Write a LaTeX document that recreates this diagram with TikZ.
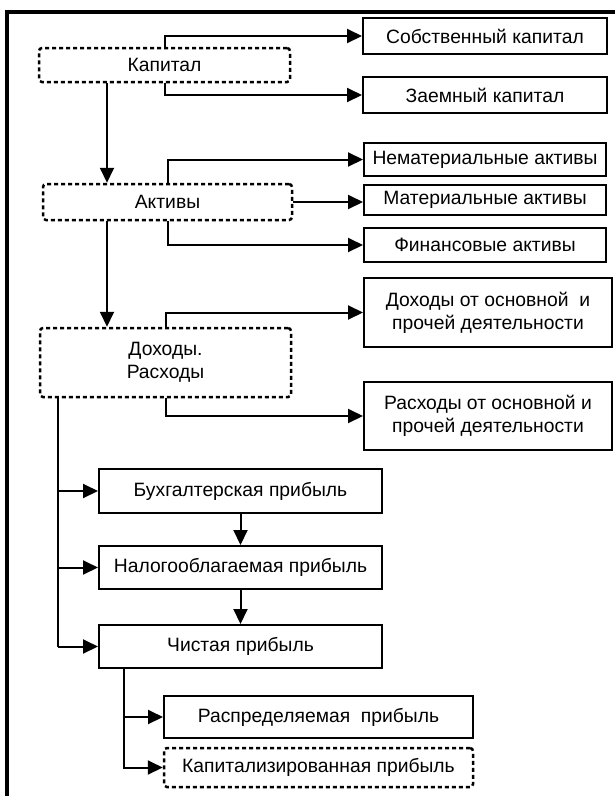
\documentclass[tikz,border=0pt]{standalone}
\usepackage{fontspec}
\setmainfont{Liberation Sans}
\usetikzlibrary{arrows.meta}
\tikzset{
  every node/.style={font=\fontsize{19.3}{23}\selectfont, align=center, inner sep=0pt},
  solidbox/.style={draw, line width=2pt, fill=white, rectangle},
  dashbox/.style={draw, line width=2.5pt, dash pattern=on 4pt off 3pt, rounded corners=3pt, fill=white, rectangle},
  conn/.style={line width=2pt},
  arr/.style={line width=2pt, -{Triangle[length=15pt,width=14pt]}},
}
\begin{document}
\begin{tikzpicture}[x=1pt,y=-1pt]
\useasboundingbox (0,0) rectangle (615,796);
% frame
\draw[line width=4pt] (617,12) -- (7,12) -- (7,800);
% coordinates for trunks
\coordinate (ca) at (107,0);
\coordinate (cb) at (58,0);
\coordinate (cc) at (124,0);
% boxes
\node[dashbox, minimum width=251pt, minimum height=34pt] (kap) at (164.5,65) {Капитал};
\node[dashbox, minimum width=249pt, minimum height=36pt] (akt) at (167.5,202) {Активы};
\node[dashbox, minimum width=251pt, minimum height=69pt] (doh) at (165.5,362.5) {Доходы.\\Расходы};
\node[solidbox, minimum width=244pt, minimum height=36pt] (sob) at (485,36) {Собственный капитал};
\node[solidbox, minimum width=244pt, minimum height=36pt] (zaem) at (485,95) {Заемный капитал};
\node[solidbox, minimum width=242pt, minimum height=33pt] (nemat) at (485,159.5) {Нематериальные активы};
\node[solidbox, minimum width=242pt, minimum height=30pt] (mat) at (485,200) {Материальные активы};
\node[solidbox, minimum width=242pt, minimum height=34pt] (fin) at (485,245) {Финансовые активы};
\node[solidbox, minimum width=248pt, minimum height=69pt] (doh2) at (488,312.5) {Доходы от основной~ и\\прочей деятельности};
\node[solidbox, minimum width=248pt, minimum height=68pt] (ras2) at (488,416) {Расходы от основной и\\прочей деятельности};
\node[solidbox, minimum width=283pt, minimum height=44pt] (buh) at (240.5,491) {Бухгалтерская прибыль};
\node[solidbox, minimum width=283pt, minimum height=43pt] (nal) at (240.5,567.5) {Налогооблагаемая прибыль};
\node[solidbox, minimum width=283pt, minimum height=43pt] (chist) at (240.5,646.5) {Чистая прибыль};
\node[solidbox, minimum width=309pt, minimum height=42pt] (raspr) at (318.5,717) {Распределяемая~ прибыль};
\node[dashbox, minimum width=309pt, minimum height=39pt] (kapit) at (318.5,767.5) {Капитализированная прибыль};
% Kapital branches
\draw[arr] (kap.north) |- (sob.west);
\draw[arr] (kap.south) |- (zaem.west);
\draw[arr] (kap.south -| ca) -- (akt.north -| ca);
% Aktivy branches
\draw[arr] (akt.north) |- (nemat.west);
\draw[arr] (akt.east) -- (akt.east -| mat.west);
\draw[arr] (akt.south) |- (fin.west);
\draw[arr] (akt.south -| ca) -- (doh.north -| ca);
% Dohody branches
\draw[arr] (doh.north) |- (doh2.west);
\draw[arr] (doh.south) |- (ras2.west);
% left trunk
\draw[conn] (doh.south -| cb) -- (chist.west -| cb);
\draw[arr] (buh.west -| cb) -- (buh.west);
\draw[arr] (nal.west -| cb) -- (nal.west);
\draw[arr] (chist.west -| cb) -- (chist.west);
\draw[arr] (buh.south) -- (nal.north);
\draw[arr] (nal.south) -- (chist.north);
% chist branches
\draw[arr] (chist.south -| cc) |- (raspr.west);
\draw[arr] (chist.south -| cc) |- (kapit.west);
\end{tikzpicture}
\end{document}
